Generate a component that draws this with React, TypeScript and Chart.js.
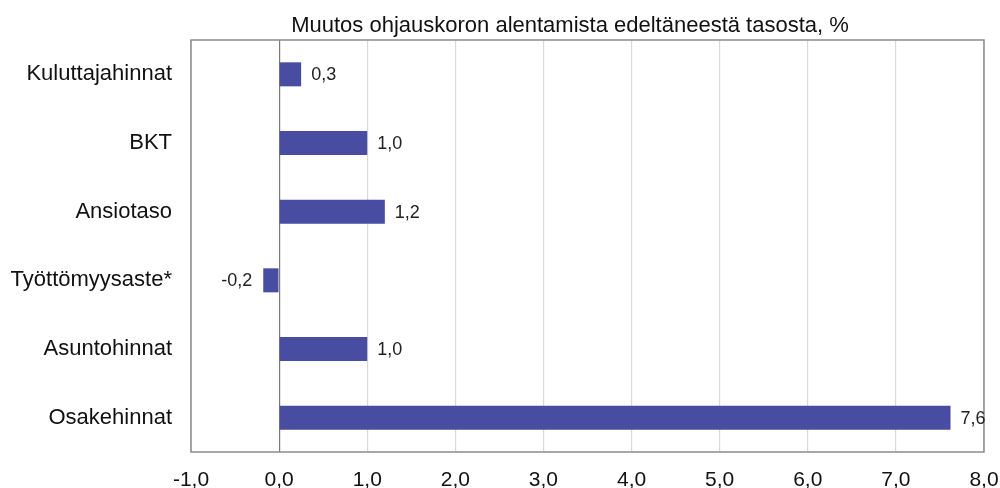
import React, { useEffect, useRef } from "react";
import { Chart, registerables } from "chart.js";

Chart.register(...registerables);

const categories = ["Kuluttajahinnat", "BKT", "Ansiotaso", "Työttömyysaste*", "Asuntohinnat", "Osakehinnat"];
const values = [0.25, 1.0, 1.2, -0.18, 1.0, 7.62];
const titleText = "Muutos ohjauskoron alentamista edeltäneestä tasosta, %";
const xMin = -1;
const xMax = 8;

const fmt = (v: number) => v.toFixed(1).replace(".", ",");

const FONT = "'Liberation Sans', Arial, sans-serif";

const framePlugin = {
  id: "frame",
  afterDraw(chart: any) {
    const { ctx, chartArea } = chart;
    ctx.save();
    ctx.strokeStyle = "#8c8c8c";
    ctx.lineWidth = 1.5;
    ctx.strokeRect(chartArea.left, chartArea.top, chartArea.right - chartArea.left, chartArea.bottom - chartArea.top);
    // title
    ctx.fillStyle = "#111";
    ctx.font = `22px ${FONT}`;
    ctx.textAlign = "center";
    ctx.textBaseline = "alphabetic";
    ctx.fillText(titleText, 570, 32);
    // data labels
    const meta = chart.getDatasetMeta(0);
    ctx.font = `18px ${FONT}`;
    ctx.fillStyle = "#222";
    ctx.textBaseline = "middle";
    meta.data.forEach((bar: any, i: number) => {
      const v = values[i];
      if (v >= 0) {
        ctx.textAlign = "left";
        ctx.fillText(fmt(v), bar.x + 10, bar.y + 1);
      } else {
        ctx.textAlign = "right";
        ctx.fillText(fmt(v), bar.x - 11, bar.y + 1);
      }
    });
    ctx.restore();
  },
};

export default function App() {
  const ref = useRef<HTMLCanvasElement | null>(null);
  useEffect(() => {
    if (!ref.current) return;
    const chart = new Chart(ref.current, {
      type: "bar",
      data: {
        labels: categories,
        datasets: [
          {
            data: values,
            backgroundColor: "#484da1",
            borderWidth: 0,
            barPercentage: 0.35,
            categoryPercentage: 1,
          },
        ],
      },
      options: {
        indexAxis: "y",
        animation: false,
        responsive: true,
        maintainAspectRatio: false,
        layout: { padding: { top: 40, right: 16, left: 0, bottom: 0 } },
        plugins: { legend: { display: false }, tooltip: { enabled: false }, title: { display: false } },
        scales: {
          x: {
            min: xMin,
            max: xMax,
            ticks: {
              stepSize: 1,
              callback: (v: any) => fmt(Number(v)),
              color: "#111",
              font: { family: FONT, size: 21 },
              padding: 16,
              maxRotation: 0,
            },
            grid: {
              drawTicks: false,
              color: (c: any) => (c.tick && c.tick.value === 0 ? "#7a7a7a" : "#d9d9d9"),
              lineWidth: 1.2,
            },
            border: { display: false },
            afterFit: (s: any) => {
              s.height = 36;
              s.paddingLeft = 0;
              s.paddingRight = 0;
            },
          },
          y: {
            ticks: {
              color: "#111",
              font: { family: FONT, size: 22 },
              padding: 19,
            },
            grid: { display: false, drawTicks: false },
            border: { display: false },
            afterFit: (s: any) => {
              s.width = 191;
              s.paddingTop = 0;
              s.paddingBottom = 0;
            },
          },
        },
      },
      plugins: [framePlugin],
    });
    return () => chart.destroy();
  }, []);
  return (
    <div style={{ position: "absolute", left: 0, top: 0, width: 1000, height: 488, background: "#fff" }}>
      <canvas ref={ref} />
    </div>
  );
}
